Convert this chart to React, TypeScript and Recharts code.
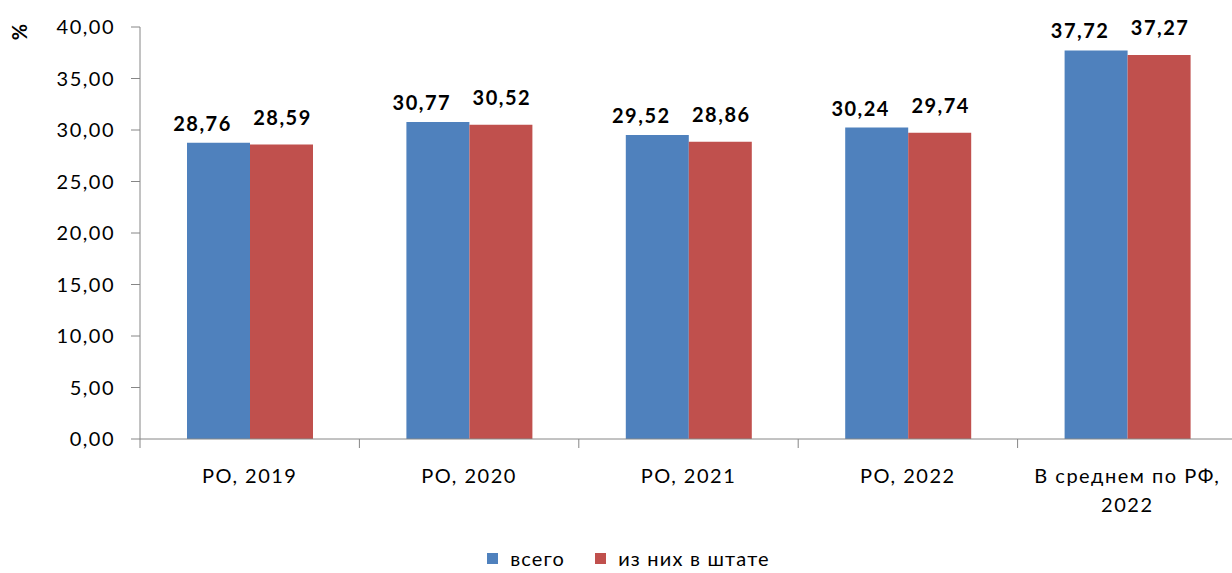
import { Bar, BarChart, LabelList, Legend, XAxis, YAxis } from 'recharts';

const CATEGORIES = ['РО, 2019', 'РО, 2020', 'РО, 2021', 'РО, 2022', 'В среднем по РФ, 2022'];
const TOTAL = [28.76, 30.77, 29.52, 30.24, 37.72];
const STAFF = [28.59, 30.52, 28.86, 29.74, 37.27];
const Y_TICKS = [0, 5, 10, 15, 20, 25, 30, 35, 40];
const SERIES_NAMES = { total: 'всего', staff: 'из них в штате' };

const DATA = CATEGORIES.map((name, i) => ({ name, total: TOTAL[i], staff: STAFF[i] }));

const BLUE = '#4F81BD';
const RED = '#C0504D';
const AXIS = '#868686';
const FONT = 'Lato, "Open Sans", sans-serif';

const fmt = (v: number) => v.toFixed(2).replace('.', ',');

const CategoryTick = (props: any) => {
    const { x, y, payload } = props;
    const half = payload?.offset ?? 109.7;
    const label: string = payload.value;
    const lines = label.length > 12 ? [label.slice(0, label.lastIndexOf(' ')), label.slice(label.lastIndexOf(' ') + 1)] : [label];
    return (
        <g>
            <line x1={x - half} y1={y} x2={x - half} y2={y + 9} stroke={AXIS} strokeWidth={1} />
            {lines.map((ln, i) => (
                <text key={i} x={x} y={y + 44 + i * 29} textAnchor="middle" fontFamily={FONT} fontSize={20} letterSpacing={1.5} fill="#000">
                    {ln}
                </text>
            ))}
        </g>
    );
};

const makeLabel = (dx: number, dy: number) => (props: any) => {
    const { x, y, width, value } = props;
    return (
        <text x={x + width / 2 + dx} y={y - dy} textAnchor="middle" fontFamily={FONT} fontWeight="bold" fontSize={20} letterSpacing={1.5} fill="#000">
            {fmt(value)}
        </text>
    );
};

const LegendContent = () => (
    <div style={{ height: 30, paddingLeft: 20, boxSizing: 'border-box', display: 'flex', alignItems: 'center', justifyContent: 'center', fontFamily: FONT, fontSize: 20, lineHeight: '22px', letterSpacing: 1.2, color: '#000' }}>
        <span style={{ width: 11, height: 11, background: BLUE, display: 'inline-block', marginRight: 12 }} />
        <span style={{ marginRight: 30 }}>{SERIES_NAMES.total}</span>
        <span style={{ width: 11, height: 11, background: RED, display: 'inline-block', marginRight: 12 }} />
        <span>{SERIES_NAMES.staff}</span>
    </div>
);

const PercentLabel = () => (
    <text x={0} y={0} transform="translate(27 32) rotate(-90)" textAnchor="middle" fontFamily={FONT} fontWeight="bold" fontSize={20} fill="#000">
        %
    </text>
);

export default function App() {
    return (
        <div style={{ position: 'absolute', left: 0, top: 0, width: 1232, height: 573, overflow: 'hidden', background: '#fff' }}>
            <BarChart width={1232} height={573} data={DATA} margin={{ top: 27, right: -5, left: 0, bottom: 0 }} barCategoryGap={47} barGap={0}>
                <XAxis
                    dataKey="name"
                    stroke={AXIS}
                    tickLine={false}
                    tickSize={0}
                    tickMargin={0}
                    height={104}
                    interval={0}
                    tick={<CategoryTick />}
                />
                <YAxis
                    domain={[0, 40]}
                    ticks={Y_TICKS}
                    width={140}
                    stroke={AXIS}
                    tickSize={9}
                    tickMargin={16}
                    tickFormatter={fmt}
                    tick={{ fill: '#000', fontFamily: FONT, fontSize: 20, letterSpacing: 1.5 }}
                    label={<PercentLabel />}
                />
                <Legend verticalAlign="bottom" content={<LegendContent />} />
                <Bar dataKey="total" name={SERIES_NAMES.total} fill={BLUE} isAnimationActive={false}>
                    <LabelList dataKey="total" content={makeLabel(-16, 12)} />
                </Bar>
                <Bar dataKey="staff" name={SERIES_NAMES.staff} fill={RED} isAnimationActive={false}>
                    <LabelList dataKey="staff" content={makeLabel(1, 20)} />
                </Bar>
            </BarChart>
        </div>
    );
}
